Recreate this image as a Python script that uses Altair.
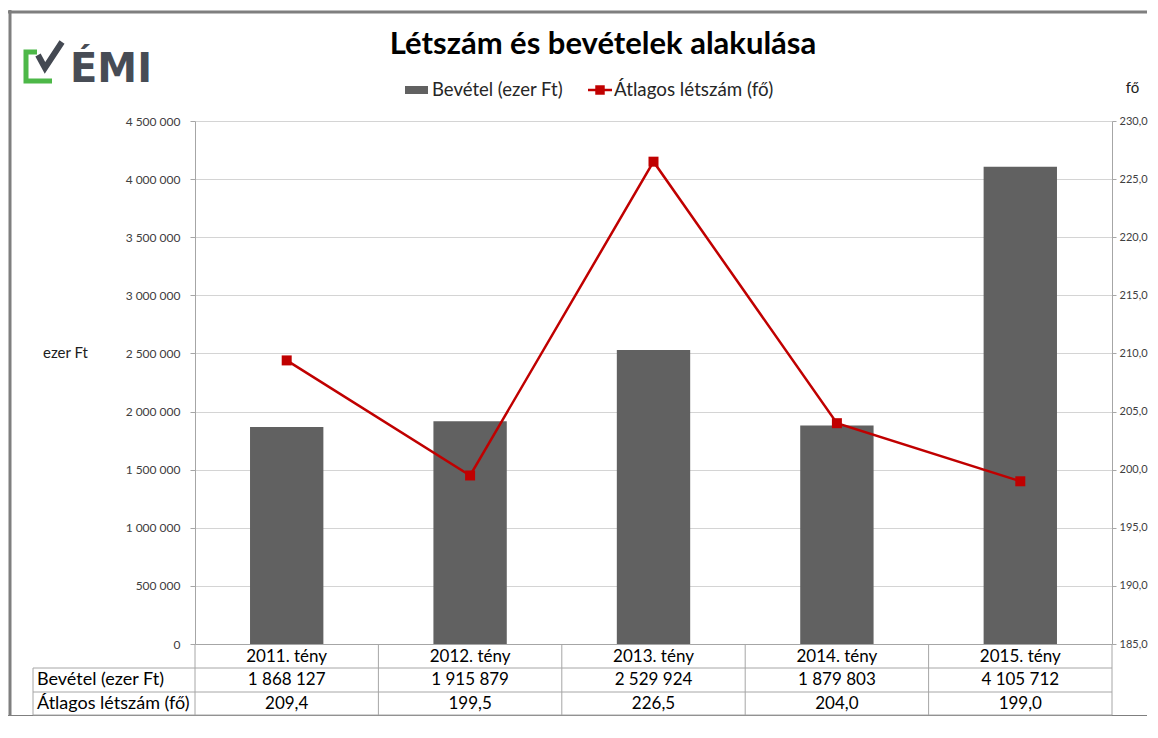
import altair as alt
import pandas as pd

# ---- data ----
categories = ["2011. tény", "2012. tény", "2013. tény", "2014. tény", "2015. tény"]
bevetel = [1868127, 1915879, 2529924, 1879803, 4105712]
letszam = [209.4, 199.5, 226.5, 204.0, 199.0]
left_ticks = [0, 500000, 1000000, 1500000, 2000000, 2500000, 3000000, 3500000, 4000000, 4500000]
right_ticks = [185, 190, 195, 200, 205, 210, 215, 220, 225, 230]
series_names = ["Bevétel (ezer Ft)", "Átlagos létszám (fő)"]
title_text = "Létszám és bevételek alakulása"

W, H = 917, 523
FONT = "Lato"
RED = "#C00000"
BAR = "#616161"
GRID = "#d4d4d4"
LINEC = "#a6a6a6"

df = pd.DataFrame({"cat": categories, "bev": bevetel, "let": letszam})
one = pd.DataFrame({"a": [0]})

xenc = alt.X("cat:N", sort=categories, title=None,
             scale=alt.Scale(paddingInner=0, paddingOuter=0),
             axis=alt.Axis(labelFontSize=17, labelFont=FONT, labelColor="#000000",
                           labelAngle=0, ticks=False, domainColor=LINEC,
                           labelPadding=12, labelBaseline="middle", grid=False))

bars = alt.Chart(df).mark_bar(color=BAR, width=alt.RelativeBandSize(0.4)).encode(
    x=xenc,
    y=alt.Y("bev:Q", scale=alt.Scale(domain=[0, 4500000], nice=False),
            axis=alt.Axis(orient="left", values=left_ticks, format=",d",
                          labelFont=FONT, labelFontSize=12, labelColor="#404040",
                          tickSize=5, tickColor=LINEC, domainColor=LINEC,
                          gridColor=GRID, labelPadding=10,
                          title="ezer Ft", titleAngle=0, titleFont=FONT,
                          titleFontSize=15, titleFontWeight="normal", titleColor="#202020",
                          titleX=-130, titleY=231, titleAlign="center",
                          titleBaseline="middle")),
)

yline = alt.Y("let:Q", scale=alt.Scale(domain=[185, 230], nice=False),
              axis=alt.Axis(orient="right", values=right_ticks, format=".1f",
                            labelFont=FONT, labelFontSize=11, labelColor="#404040",
                            tickSize=4, tickColor=LINEC, domainColor=LINEC,
                            grid=False, labelPadding=3,
                            title="fő", titleAngle=0, titleFont=FONT,
                            titleFontSize=15, titleFontWeight="normal", titleColor="#202020",
                            titleX=20, titleY=-34, titleAlign="center",
                            titleBaseline="middle"))

line = alt.Chart(df).mark_line(color=RED, strokeWidth=2.5).encode(
    x=alt.X("cat:N", sort=categories), y=yline)
pts = alt.Chart(df).mark_square(color=RED, size=100, opacity=1).encode(
    x=alt.X("cat:N", sort=categories), y=alt.Y("let:Q"))
line_layer = alt.layer(line, pts)

# ---- data table below plot ----
row1_y, row2_y = 559, 583
t_bev = alt.Chart(df).mark_text(font=FONT, fontSize=17, color="#000000").encode(
    x=alt.X("cat:N", sort=categories), y=alt.value(row1_y),
    text=alt.Text("bev:Q", format=",d"))
t_let = alt.Chart(df).mark_text(font=FONT, fontSize=17, color="#000000").encode(
    x=alt.X("cat:N", sort=categories), y=alt.value(row2_y),
    text=alt.Text("let:Q", format=".1f"))
rowlab = alt.Chart(pd.DataFrame({"t": series_names, "y": [row1_y, row2_y]})).mark_text(
    font=FONT, fontSize=18, color="#000000", align="left").encode(
    x=alt.value(-158), y=alt.Y("y:Q", scale=None), text="t:N")

hrules = pd.DataFrame({"x": [-162, -162, -162], "x2": [W, W, W], "y": [547, 571, 594]})
hr = alt.Chart(hrules).mark_rule(color=LINEC, strokeWidth=1).encode(
    x=alt.X("x:Q", scale=None), x2="x2:Q", y=alt.Y("y:Q", scale=None))
vr_df = pd.DataFrame({"x": [W * i / 5 for i in range(6)] + [-162],
                      "y": [H] * 6 + [547], "y2": [594] * 7})
vr = alt.Chart(vr_df).mark_rule(color=LINEC, strokeWidth=1).encode(
    x=alt.X("x:Q", scale=None), y=alt.Y("y:Q", scale=None), y2="y2:Q")

# ---- title & legend ----
title = alt.Chart(one).mark_text(font=FONT, fontSize=31, fontWeight="bold",
                                 color="#000000").encode(
    x=alt.value(408), y=alt.value(-76), text=alt.value(title_text))
leg_rect = alt.Chart(one).mark_rect(color=BAR).encode(
    x=alt.value(210), x2=alt.value(233), y=alt.value(-35), y2=alt.value(-27))
leg_t1 = alt.Chart(one).mark_text(font=FONT, fontSize=18.5, color="#262626", align="left").encode(
    x=alt.value(237), y=alt.value(-31), text=alt.value(series_names[0]))
leg_line = alt.Chart(one).mark_rule(color=RED, strokeWidth=2.5).encode(
    x=alt.value(393), x2=alt.value(417), y=alt.value(-31))
leg_pt = alt.Chart(one).mark_square(color=RED, size=90, opacity=1).encode(
    x=alt.value(405), y=alt.value(-31))
leg_t2 = alt.Chart(one).mark_text(font=FONT, fontSize=18.8, color="#262626", align="left").encode(
    x=alt.value(419), y=alt.value(-31), text=alt.value(series_names[1]))

# ---- logo & frame ----
brk = alt.Chart(pd.DataFrame({"x": [-158, -169, -169, -143], "y": [-69, -69, -40, -40],
                              "o": [0, 1, 2, 3]})).mark_line(
    color="#4db848", strokeWidth=5, strokeJoin="miter", strokeCap="butt").encode(
    x=alt.X("x:Q", scale=None), y=alt.Y("y:Q", scale=None), order="o:Q")
chk = alt.Chart(pd.DataFrame({"x": [-157, -150, -133], "y": [-66, -53, -79],
                              "o": [0, 1, 2]})).mark_line(
    color="#444952", strokeWidth=6, strokeJoin="miter", strokeCap="butt").encode(
    x=alt.X("x:Q", scale=None), y=alt.Y("y:Q", scale=None), order="o:Q")
logo_t = alt.Chart(one).mark_text(font="DejaVu Sans", fontSize=40, fontWeight="bold",
                                  color="#474c55", align="left", baseline="alphabetic").encode(
    x=alt.value(-125), y=alt.value(-39), text=alt.value("ÉMI"))
frame_df = pd.DataFrame({"x": [-187, -185, -187], "x2": [952, -185, 952],
                         "y": [-109, -111, 595.5], "y2": [-109, 595.5, 595.5]})
frame = alt.Chart(frame_df).mark_rule(color="#7f7f7f", strokeWidth=3).encode(
    x=alt.X("x:Q", scale=None), x2="x2:Q", y=alt.Y("y:Q", scale=None), y2="y2:Q")

chart = alt.layer(
    frame, bars, line_layer, hr, vr, t_bev, t_let, rowlab,
    title, leg_rect, leg_t1, leg_line, leg_pt, leg_t2, brk, chk, logo_t
).resolve_scale(y="independent").properties(
    width=W, height=H,
    autosize=alt.AutoSizeParams(type="none"),
    padding={"left": 187, "top": 113, "right": 36, "bottom": 72},
).configure(
    locale={"number": {"decimal": ",", "thousands": "\u00a0", "grouping": [3],
                       "currency": ["", ""]}}
).configure_view(stroke=None).configure_axis(gridWidth=1)

chart.save("out.html", embed_options={"renderer": "svg", "actions": False})
